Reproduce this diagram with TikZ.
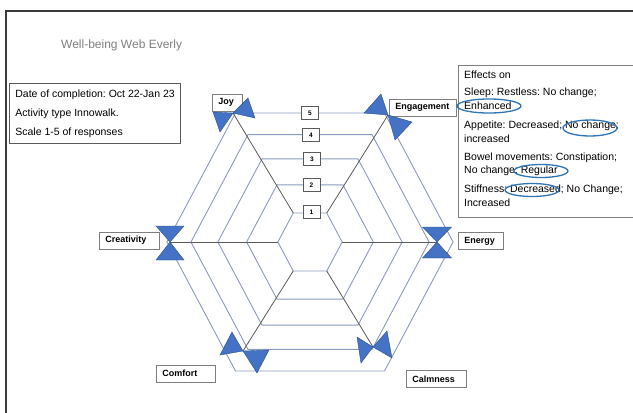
\documentclass[tikz,border=0pt]{standalone}
\usepackage{fontspec}
\setmainfont{Liberation Sans}
\frenchspacing
\definecolor{hexc}{HTML}{8A9BBE}
\definecolor{spokec}{HTML}{5A5A5A}
\definecolor{bowfill}{HTML}{4472C4}
\definecolor{bowline}{HTML}{2F528F}
\definecolor{ringc}{HTML}{2E75B6}
\definecolor{boxc}{HTML}{7F7F7F}
\definecolor{titlec}{HTML}{808080}
\definecolor{framec}{HTML}{3C3C3C}
\newcommand{\drawbow}[5]{%
  \filldraw[bow] (#1) -- +(#2) -- +(#3) -- cycle;
  \filldraw[bow] (#1) -- +(#4) -- +(#5) -- cycle;}
\begin{document}
\begin{tikzpicture}[x=1pt,y=-1pt,
  hexline/.style={draw=hexc,line width=0.9pt},
  spoke/.style={draw=spokec,line width=0.8pt},
  bow/.style={fill=bowfill,draw=bowline,line width=0.4pt,line join=miter},
  lvlbox/.style={draw=spokec,fill=white,line width=0.6pt,font=\bfseries\fontsize{6.5}{7}\selectfont,minimum width=17pt,minimum height=13pt,inner sep=0pt},
  axbox/.style={draw=boxc,fill=white,line width=0.8pt,font=\bfseries\fontsize{9}{10}\selectfont,minimum height=17pt,inner ysep=0pt,inner xsep=6pt,align=left,anchor=west},
  txt/.style={font=\fontsize{10.5}{12}\selectfont,inner sep=0pt,anchor=west},
  ring/.style={draw=ringc,line width=1.3pt}
]
\useasboundingbox (0,0) rectangle (633,413);
\fill[white] (0,0) rectangle (633,413);
% outer frame
\draw[draw=framec,line width=2pt] (6,413) -- (6,10.5) -- (633,10.5);
% title
\node[font=\fontsize{12}{14}\selectfont,text=titlec,inner sep=0pt,anchor=west] (title) at (61,45) {Well-being Web Everly};
% info box
\node[draw=spokec,line width=0.8pt,anchor=north west,inner xsep=6pt,inner ysep=6pt,align=left,font=\fontsize{10.5}{19}\selectfont] (info) at (9,83)
  {Date of completion: Oct 22-Jan 23\\Activity type Innowalk.\\Scale 1-5 of responses};
% hexagon rings
\coordinate (c) at (310,242);
\foreach \r in {33.5,66,96,124,149} {
  \draw[hexline] ({310+0.96*\r},242) -- ({310+0.5*\r},{242-0.866*\r}) -- ({310-0.5*\r},{242-0.866*\r})
     -- ({310-0.96*\r},242) -- ({310-0.5*\r},{242+0.866*\r}) -- ({310+0.5*\r},{242+0.866*\r}) -- cycle;
}
% inner ring vertices (spokes start here)
\coordinate (ijoy) at (293.25,213);
\coordinate (ieng) at (326.75,213);
\coordinate (icre) at (277.8,242);
\coordinate (iene) at (342.2,242);
\coordinate (icom) at (293.25,271);
\coordinate (ical) at (326.75,271);
% axis points
\coordinate (pjoy) at (233,113);
\coordinate (peng) at (388,115);
\coordinate (pcre) at (170,242);
\coordinate (pene) at (437,242);
\coordinate (pcom) at (243,351);
\coordinate (pcal) at (373,347);
% spokes
\draw[spoke] (ijoy) -- (pjoy);
\draw[spoke] (ieng) -- (peng);
\draw[spoke] (icre) -- (pcre);
\draw[spoke] (iene) -- (pene);
\draw[spoke] (icom) -- (pcom);
\draw[spoke] (ical) -- (pcal);
% level labels
\node[lvlbox] (l5) at (310,113) {5};
\node[lvlbox] (l4) at (311,135) {4};
\node[lvlbox] (l3) at (312,159) {3};
\node[lvlbox] (l2) at (311.5,185) {2};
\node[lvlbox] (l1) at (311.5,212) {1};
% axis labels
\node[axbox,text width=18pt] (joy) at (212,102.5) {Joy};
\node[axbox,text width=55pt] (eng) at (389,107.5) {Engagement};
\node[axbox,text width=48pt] (cre) at (99,240.5) {Creativity};
\node[axbox,text width=33pt] (ene) at (458,241) {Energy};
\node[axbox,text width=47pt] (com) at (156,373.5) {Comfort};
\node[axbox,text width=48pt] (cal) at (406,379) {Calmness};
% bowties
\drawbow{pjoy}{-20,-1}{-13,19}{15,-15}{22,5}
\drawbow{peng}{-24,-2}{-7,-21}{7,25}{24,7}
\drawbow{pcre}{-14,-16}{14,-16}{-14,18}{14,18}
\drawbow{pene}{-14.5,-15}{14.5,-15}{-14.5,16}{14.5,16}
\drawbow{pcom}{-23,4}{-11,-19}{14,22}{26,-1}
\drawbow{pcal}{-16,-10}{-12,16}{14,-16}{19,11}
% effects box
\node[draw=boxc,line width=0.8pt,anchor=north west,minimum width=177pt,minimum height=152pt,inner sep=0pt] (effects) at (458,65) {};
\node[txt] (e1) at (464,75) {Effects on};
\node[txt] (e2) at (464,93) {Sleep: Restless: No change;};
\node[txt] (e3) at (464,106) {Enhanced};
\node[txt] (e4) at (464,126) {Appetite: Decreased; No change;};
\node[txt] (e5) at (464,138.5) {increased};
\node[txt] (e6) at (464,158) {Bowel movements: Constipation;};
\node[txt] (e7) at (464,171) {No change; Regular};
\node[txt] (e8) at (464,190) {Stiffness: Decreased; No Change;};
\node[txt] (e9) at (464,203) {Increased};
% circled answers
\draw[ring] (489,106) ellipse [x radius=32, y radius=7];
\draw[ring] (590,128) ellipse [x radius=27, y radius=8];
\draw[ring] (541,171) ellipse [x radius=27, y radius=6.5];
\draw[ring] (532,190) ellipse [x radius=27, y radius=6.5];
\end{tikzpicture}
\end{document}
